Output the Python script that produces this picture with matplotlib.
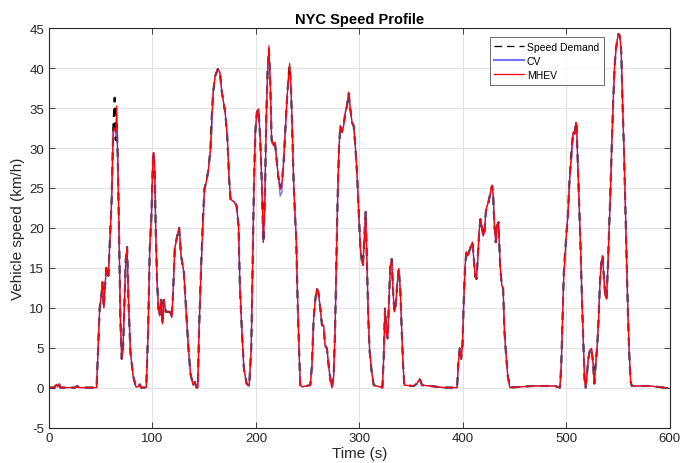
import numpy as np
import matplotlib
matplotlib.use("Agg")
import matplotlib.pyplot as plt

plt.rcParams['font.family'] = ['Liberation Sans', 'DejaVu Sans']
plt.rcParams['axes.unicode_minus'] = False

# NYC speed demand (time in s, speed in km/h)
time_s = [
    0, 5, 7.4, 8.5, 9.9, 11, 25, 27.4, 29, 46,
    49, 51, 51.6, 53, 54, 55.5, 57.4, 58.7, 60.6, 62,
    63.5, 64.5, 65.5, 66.5, 67.7, 69, 70.3, 71.6, 73.2, 74.2,
    75.5, 76.8, 78.7, 81.3, 84, 86, 87.7, 89, 94, 95.8,
    97.4, 99, 100.6, 101.3, 102.3, 103.2, 104.5, 105.8, 107, 108.4,
    109.7, 111, 112.9, 116.8, 118.7, 120, 121.6, 123.9, 125.8, 127.7,
    130.3, 132.9, 134.8, 136.8, 139.4, 141, 142.6, 143.9, 145, 147.1,
    149, 150.3, 152.3, 154.2, 156.1, 157.4, 158.7, 160.6, 163.2, 165.2,
    167.1, 170.3, 172.3, 174.2, 175.5, 177.4, 179.4, 181.3, 183.2, 184.5,
    186.5, 188.4, 191, 193.5, 195.5, 196.8, 198, 199.4, 201, 202.6,
    204.2, 205.8, 207.2, 208.7, 210, 211.3, 212.6, 213.9, 215.2, 217.1,
    218.4, 219.7, 221.6, 223.5, 225.2, 226.8, 228.4, 230, 231.6, 232.6,
    233.9, 235.2, 236.5, 237.7, 239, 240.3, 241.6, 242.9, 244.5, 252.6,
    254.2, 255.8, 257.4, 259, 260.3, 262.3, 263.9, 265.5, 266.8, 268.7,
    270.3, 271.9, 273.5, 275.2, 276.5, 277.7, 279, 280.3, 281.6, 283.2,
    284.8, 286.5, 288.1, 289.7, 291.3, 292.9, 294.5, 296.1, 297.7, 299.4,
    301, 302.6, 303.5, 304.8, 306.1, 307.4, 308.7, 310, 311.9, 313.9,
    322.3, 323.5, 324.8, 326.1, 327.4, 328.7, 330, 331.3, 332.6, 333.9,
    335.2, 336.5, 338.1, 339.7, 341, 342.3, 343.5, 352.6, 355.8, 358.4,
    360.6, 368.7, 381.6, 394.5, 395.8, 397.1, 398.4, 399.7, 401, 402.3,
    403.5, 404.8, 406.1, 408.1, 409.4, 410.6, 411.9, 413.2, 414.5, 415.8,
    417.1, 418.4, 419.7, 421, 422.3, 423.5, 424.8, 426.1, 427.4, 428.4,
    429.4, 430.6, 431.9, 433.2, 434.5, 435.2, 436.1, 437.7, 439, 440.3,
    441.6, 443.5, 445.5, 468, 489, 493.9, 495.2, 496.5, 497.7, 499,
    500.3, 501.6, 502.9, 504.2, 505.5, 506.8, 508.1, 509.4, 510, 511.3,
    512.6, 513.9, 515.2, 516.5, 517.7, 518.7, 519.7, 521.3, 522.9, 524.5,
    526.1, 527.1, 528.4, 530, 531.3, 532.6, 533.9, 535.2, 536.5, 537.7,
    539, 540.3, 541.6, 542.9, 544.2, 545.5, 546.8, 548.1, 549.4, 550.6,
    551.9, 553.2, 554.5, 555.8, 557.1, 558.4, 559.7, 561, 562.3, 563.5,
    581, 594, 598,
]
demand = [
    0, 0, 0.4, 0.1, 0.4, 0, 0, 0.2, 0, 0,
    10, 12, 13.2, 10, 12.5, 15, 14, 17.8, 23.6, 32,
    36.3, 31, 33, 28.6, 19.5, 8.6, 3.6, 4.9, 12, 16,
    17.6, 11, 4.5, 1.5, 0.1, 0.1, 0.4, 0, 0, 7,
    17.4, 21.5, 29, 29.4, 26.5, 19.5, 13.2, 9.9, 9, 11,
    8, 11, 9.5, 9.5, 8.8, 12, 17.4, 19, 20, 16.5,
    14.5, 9, 4.9, 1.7, 0.3, 0.7, 0, 0, 7, 15.3,
    21.5, 24.9, 25.9, 27.4, 29.9, 34, 37, 39, 39.9, 39.5,
    37, 34.5, 31.5, 26, 23.6, 23.4, 23.2, 22.8, 20.3, 12.8,
    7, 2.4, 0.5, 0.2, 4.9, 15.3, 24.5, 32, 34.5, 34.9,
    31, 25.3, 18.2, 23.6, 33.6, 39.5, 42.4, 38.2, 31, 30.3,
    30.7, 29, 26.5, 24.9, 25.7, 28.2, 32, 36, 39, 40.3,
    37.8, 32, 25.7, 22, 18.6, 11.1, 5.3, 0.3, 0.1, 0.3,
    2.8, 8.6, 11, 12.4, 12, 9.9, 7.8, 7.8, 5.3, 4.9,
    2.8, 1.1, 0, 1.5, 7, 15.3, 23.6, 29.9, 32.8, 32,
    32.8, 34.5, 35.3, 36.8, 34.9, 33.2, 32.8, 30.3, 27, 22,
    17.4, 15.7, 15.3, 18.6, 22, 15.3, 8.6, 4.5, 2, 0.3,
    0, 3.6, 9.9, 7, 6.1, 11.1, 15.3, 16.1, 12, 9.5,
    10.3, 12.8, 14.9, 12, 7, 2.8, 0.3, 0.2, 0.5, 1.1,
    0.3, 0.2, 0, 0, 3.2, 4.9, 3.6, 5.3, 11.1, 15.3,
    17, 16.5, 17, 17.8, 18.2, 16.1, 14, 13.6, 16.1, 19.5,
    21.1, 20.3, 19, 19.5, 22, 22.8, 23.2, 24, 24.9, 25.3,
    24, 20.3, 18.2, 20.3, 20.7, 18.2, 15.3, 12.8, 12.4, 7,
    4.5, 1.5, 0, 0.2, 0.2, 0, 2.8, 9, 14.5, 17,
    19.5, 21.5, 25.3, 27.8, 30.3, 32, 31.8, 33.2, 32.8, 27.8,
    22.4, 17.4, 11.1, 5.7, 1.1, 0, 1.1, 3.6, 4.7, 4.9,
    2.8, 0.5, 2.8, 5.3, 8.6, 13.2, 15.7, 16.5, 13.6, 11.5,
    11.1, 15.3, 20.3, 25.3, 31.1, 36.1, 40.3, 42.4, 43.6, 44.3,
    44, 42, 35.3, 29.9, 22.8, 15.3, 9, 4, 0.7, 0.2,
    0.2, 0, 0,
]

# where the simulated vehicles visibly leave the demand trace
cv_fix_t = [63.5, 64.5, 65.5, 149, 157.4, 223.5, 225.2, 232.6, 499, 505.5]
cv_fix_v = [32.5, 31.5, 32.5, 20, 32, 24.0, 24.5, 39, 15.7, 29]
mhev_fix_t = [63.5, 64.5, 65.5, 100.6, 212.6, 232.6, 289.7]
mhev_fix_v = [32.5, 32, 35.3, 29.4, 42.8, 40.6, 37]

t = np.array(time_s)
v_dem = np.array(demand)
v_cv = v_dem.copy()
v_mhev = v_dem.copy()
for tt, vv in zip(cv_fix_t, cv_fix_v):
    v_cv[t == tt] = vv
for tt, vv in zip(mhev_fix_t, mhev_fix_v):
    v_mhev[t == tt] = vv

fig = plt.figure(figsize=(6.97, 4.64), dpi=100)
ax = fig.add_axes([0.0703, 0.0765, 0.8905, 0.8604])

ax.plot(t, v_dem, color='k', ls=(0, (4, 3)), lw=1.5, label='Speed Demand')
ax.plot(t, v_cv, color=(0.45, 0.45, 1.0), lw=1.0, label='CV')
ax.plot(t, v_mhev, color='r', lw=0.9, label='MHEV')

ax.set_xlim(0, 600)
ax.set_ylim(-5, 45)
ax.set_xticks(np.arange(0, 601, 100))
ax.set_yticks(np.arange(-5, 46, 5))
ax.grid(True, color='#e3e3e3', lw=0.8)
ax.set_axisbelow(True)
ax.tick_params(direction='in', top=True, right=True, labelsize=9.5,
               colors='#262626', length=4, width=0.6)
for s in ax.spines.values():
    s.set_color('#262626')
    s.set_linewidth(0.8)

ax.set_title('NYC Speed Profile', fontsize=10.5, fontweight='bold', pad=4)
ax.set_xlabel('Time (s)', fontsize=11, labelpad=1, color='#262626')
ax.set_ylabel('Vehicle speed (km/h)', fontsize=11, labelpad=3, color='#262626')

leg = ax.legend(loc='upper left', bbox_to_anchor=(0.710, 0.978), fontsize=7.5,
                frameon=True, fancybox=False, edgecolor='#262626',
                borderpad=0.45, handlelength=2.8, handletextpad=0.3,
                labelspacing=0.4, borderaxespad=0)
leg.get_frame().set_linewidth(0.6)
handles = leg.get_lines()
handles[0].set_linewidth(0.9)
handles[0].set_dashes([6, 4])
handles[1].set_linewidth(1.5)
handles[2].set_linewidth(0.9)

fig.savefig('out.png', dpi=100)
